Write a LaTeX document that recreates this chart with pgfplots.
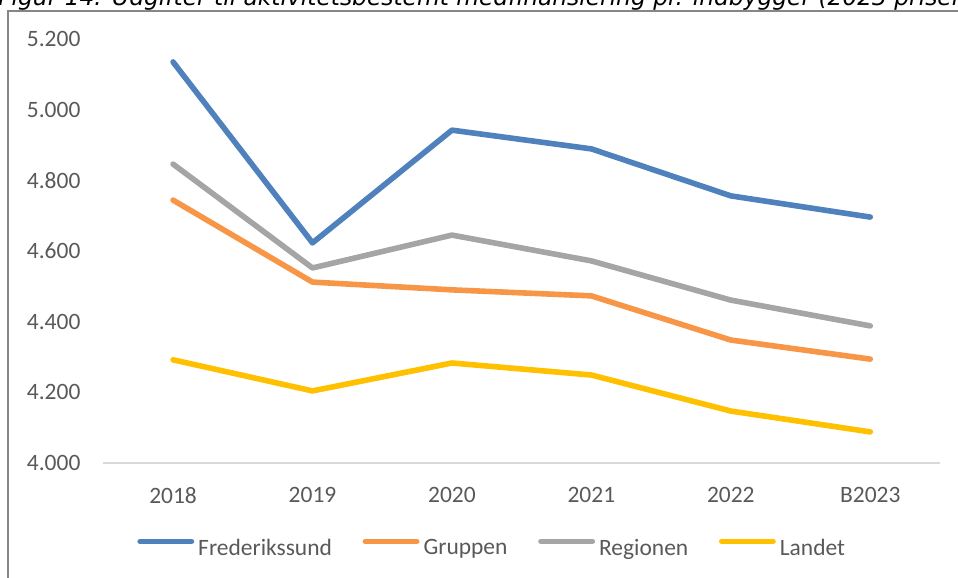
\documentclass[border=0pt]{standalone}
\usepackage{fontspec}
\setmainfont{Carlito}
\newfontfamily\titlefont{DejaVu Sans}
\usepackage{pgfplots}
\pgfplotsset{compat=1.18}
\definecolor{cBlue}{HTML}{4F81BD}
\definecolor{cOrange}{HTML}{F79646}
\definecolor{cGray}{HTML}{A5A5A5}
\definecolor{cYellow}{HTML}{FFC000}
\definecolor{cText}{HTML}{595959}
\definecolor{cAxis}{HTML}{D9D9D9}
\definecolor{cBorder}{HTML}{868686}
\begin{document}
\begin{tikzpicture}
\useasboundingbox (0,0) rectangle (718.5pt,433.5pt);
\clip (0,0) rectangle (718.5pt,433.5pt);
\draw[color=cBorder, line width=1.6pt] (6pt,-20pt) -- (6pt,425pt) -- (800pt,425pt);
\node[anchor=base west, inner sep=0pt, font=\titlefont\itshape\fontsize{17.5}{20}\selectfont] at (-1.5pt,429pt) {Figur 14: Udgifter til aktivitetsbestemt medfinansiering pr. indbygger (2023 priser)};
\begin{axis}[
  at={(77.5pt,86.25pt)}, anchor=south west,
  scale only axis, width=627.5pt, height=318pt,
  xmin=-0.5, xmax=5.5, ymin=4000, ymax=5200,
  xtick={0,1,2,3,4,5},
  xticklabels={2018,2019,2020,2021,2022,B2023},
  ytick={4000,4200,4400,4600,4800,5000,5200},
  yticklabels={4.000,4.200,4.400,4.600,4.800,5.000,5.200},
  axis x line=bottom, axis y line=left,
  x axis line style={-, draw=cAxis, line width=1.5pt},
  y axis line style={draw=none},
  tick style={draw=none}, major tick length=0pt,
  tick label style={font=\fontsize{17.6}{20}\selectfont, text=cText, inner sep=0pt},
  yticklabel style={anchor=east, xshift=-17pt},
  xticklabel style={anchor=north, yshift=-18pt},
  clip=false,
  legend columns=-1,
  legend style={at={(0.0403,-0.2005)}, anchor=west, draw=none, fill=none,
    inner sep=0pt, font=\fontsize{17.6}{20}\selectfont, text=cText,
    nodes={inner sep=0pt},
    column sep=3pt,
    /tikz/every even column/.append style={column sep=23pt}},
  legend image code/.code={\draw[#1] (1.5pt,5.2pt) -- (40pt,5.2pt);},
  every axis plot/.append style={line width=4.2pt, line cap=round, line join=round, mark=none},
]
\addplot[cBlue] coordinates {(0,5135) (1,4623) (2,4942) (3,4889) (4,4756) (5,4696)};
\addlegendentry{Frederikssund}
\addplot[cOrange] coordinates {(0,4744) (1,4512) (2,4490) (3,4473) (4,4348) (5,4294)};
\addlegendentry{Gruppen}
\addplot[cGray] coordinates {(0,4846) (1,4552) (2,4645) (3,4572) (4,4461) (5,4388)};
\addlegendentry{Regionen}
\addplot[cYellow] coordinates {(0,4292) (1,4204) (2,4283) (3,4249) (4,4147) (5,4088)};
\addlegendentry{Landet}
\end{axis}
\end{tikzpicture}
\end{document}
